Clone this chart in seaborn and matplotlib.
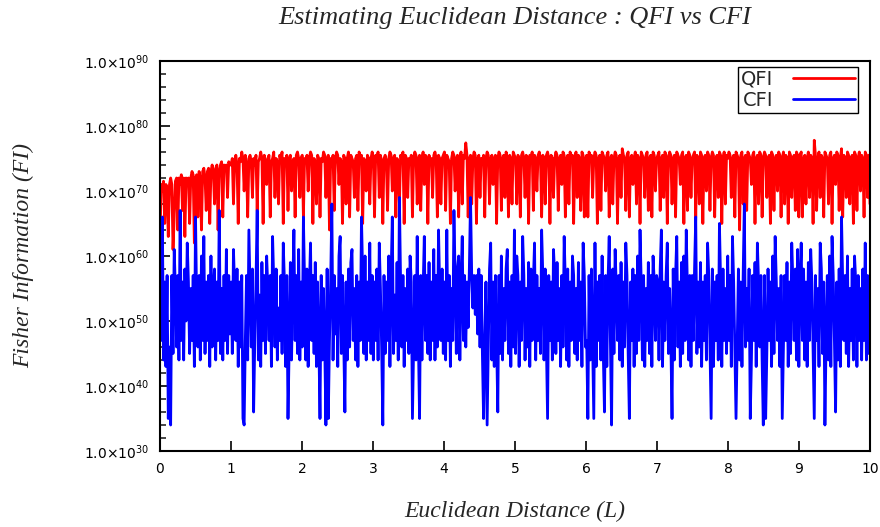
import numpy as np
import pandas as pd
import matplotlib
matplotlib.use('Agg')
import matplotlib.pyplot as plt
import seaborn as sns
from matplotlib.ticker import FixedLocator, FixedFormatter

# log10 of the Fisher information (~60 points per unit of L)
qfi_exp = [
    62, 71, 70, 71.5, 65, 71, 70.5, 63, 71, 72, 71, 61, 66, 71.5, 72, 64, 72, 71, 72.5, 67, 72, 63, 72, 71.5, 72, 65, 72, 73, 72.5, 62, 72, 72.5, 66, 73, 72, 64, 73, 73.5, 72, 67, 73, 73.5, 65, 73, 74, 73, 68, 73.5, 74, 64, 73, 74, 74.5, 66, 74, 73.5, 74, 69, 74.5, 74,
    74, 75, 68, 74.5, 75.5, 74, 65, 75, 74.5, 76, 75, 70, 75.5, 74, 66, 75, 75.5, 74.5, 69, 75, 74, 75.5, 67, 74.5, 75, 76, 75, 65, 75.5, 74.5, 71, 75, 75.5, 66, 74.5, 75, 76, 69, 75, 74.5, 68, 75.5, 75, 76, 65, 75, 74.5, 75.5, 67, 75, 75.5, 70, 74.5, 75, 66, 75.5, 76, 75, 69, 75,
    75.5, 66, 75, 74.5, 75.5, 70, 75, 76, 75.5, 65, 75, 74.5, 68, 75.5, 75, 66, 75, 74.5, 76, 75.5, 69, 75, 75.5, 64, 75, 74.5, 75.5, 67, 75, 76, 75.5, 71, 75, 74.5, 65, 75.5, 75, 68, 75, 76, 66, 75.5, 75, 74.5, 69, 75, 75.5, 67, 76, 75, 75.5, 65, 75, 74.5, 70, 75.5, 75, 68, 75, 76,
    75, 66, 75.5, 75, 76, 69, 75.5, 74.5, 65, 75, 75.5, 74.5, 67, 75, 76, 75.5, 70, 75, 75.5, 66, 75, 74.5, 68, 75.5, 75, 76, 65, 75.5, 75, 69, 75, 74.5, 75.5, 66, 75, 76, 75.5, 68, 75, 75.5, 67, 75, 76, 71, 75.5, 75, 65, 75.5, 74.5, 75, 69, 75.5, 76, 75, 66, 75.5, 75, 68, 75, 75.5,
    76, 67, 75.5, 75, 74.5, 65, 75, 76, 75.5, 70, 75, 75.5, 66, 75, 76, 68, 75.5, 75, 77.4, 75.5, 66, 75, 75.5, 68, 75, 76, 75.5, 65, 75, 75.5, 69, 75, 74.5, 75.5, 66, 75, 76, 75.5, 68, 75, 75.5, 71, 75, 75.5, 65, 75, 76, 75.5, 67, 75, 75.5, 69, 76, 75, 66, 75.5, 75, 68, 76, 75.5,
    75, 68, 75.5, 75, 66, 75.5, 76, 75, 69, 75.5, 75, 65, 75.5, 75, 76, 67, 75.5, 75, 70, 75.5, 76, 75, 66, 75.5, 75, 68, 75.5, 76, 75, 65, 75.5, 75, 69, 75, 76, 75.5, 67, 75, 75.5, 71, 76, 75.5, 66, 75, 75.5, 68, 76, 75, 75.5, 65, 75, 76, 69, 75.5, 75, 67, 76, 75.5, 66, 75,
    75.5, 66, 76, 75, 75.5, 69, 75, 76, 75.5, 65, 75, 75.5, 67, 76, 75.5, 75, 70, 75.5, 76, 66, 75, 75.5, 68, 75, 76, 75.5, 65, 75, 75.5, 69, 76.5, 75.5, 75, 67, 75.5, 76, 66, 75, 75.5, 71, 75, 76, 68, 75.5, 75, 65, 76, 75.5, 75, 69, 75.5, 76, 67, 75, 75.5, 66, 76, 75.5, 70, 75,
    75.5, 76, 67, 75, 75.5, 69, 76, 75.5, 65, 75, 76, 75.5, 68, 75, 75.5, 66, 76, 75.5, 75, 71, 75.5, 76, 65, 75, 75.5, 67, 76, 75.5, 69, 75, 75.5, 76, 66, 75.5, 75, 68, 76, 75.5, 65, 75, 75.5, 70, 76, 75.5, 67, 75, 76, 75.5, 66, 75, 75.5, 69, 76, 75.5, 65, 75, 76, 68, 75.5, 75,
    76, 75.5, 69, 75, 75.5, 66, 76, 75.5, 75, 64, 75.5, 76, 68, 75, 75.5, 67, 76, 75.5, 75, 71, 75.5, 76, 65, 75, 75.5, 68, 76, 75.5, 66, 75, 76, 75.5, 69, 75, 75.5, 65, 76, 75.5, 67, 75, 75.5, 70, 76, 75.5, 66, 75, 76, 68, 75.5, 75, 65, 76, 75.5, 69, 75, 75.5, 67, 76, 75.5, 66,
    75.5, 76, 66, 75, 75.5, 68, 75, 76, 69, 75.5, 75, 65, 77.8, 75.5, 67, 75, 76, 69, 75.5, 75, 66, 76, 75.5, 75, 68, 75.5, 76, 65, 75, 75.5, 71, 76, 75.5, 67, 75, 76.5, 66, 75.5, 75, 69, 76, 75.5, 68, 75, 75.5, 65, 76, 75.5, 67, 75, 76, 70, 75.5, 75, 66, 76, 75.5, 69, 75.5, 68,
]
cfi_exp = [
    59, 47, 66, 44, 56, 43, 57, 35, 46, 34, 57, 45, 61, 55, 46, 57, 44, 67, 47, 56, 44, 58, 50, 62, 56, 45, 55, 47, 57, 43, 66, 52, 46, 57, 44, 60, 47, 63, 45, 56, 47, 57, 43, 60, 46, 55, 58, 44, 56, 47, 67, 45, 55, 44, 57, 47, 61, 45, 57, 48,
    56, 45, 61, 55, 47, 58, 43, 56, 46, 57, 35, 34, 47, 57, 44, 64, 55, 46, 58, 36, 47, 56, 67, 44, 54, 43, 59, 47, 57, 45, 60, 55, 47, 57, 43, 63, 56, 46, 58, 44, 52, 47, 57, 45, 62, 56, 43, 57, 35, 46, 59, 44, 55, 64, 47, 57, 45, 61, 44, 56,
    46, 66, 56, 44, 58, 43, 55, 62, 47, 57, 45, 59, 43, 56, 47, 35, 57, 44, 55, 46, 34, 58, 35, 47, 56, 68, 44, 57, 48, 55, 43, 60, 63, 45, 57, 47, 36, 56, 44, 58, 46, 59, 61, 47, 55, 44, 57, 43, 56, 47, 66, 57, 45, 60, 44, 56, 47, 62, 45, 57,
    44, 56, 47, 58, 44, 62, 55, 46, 34, 57, 45, 56, 47, 60, 43, 57, 66, 45, 54, 47, 59, 44, 69, 56, 46, 57, 43, 55, 47, 58, 45, 60, 56, 35, 46, 57, 44, 63, 47, 35, 57, 44, 55, 63, 47, 57, 45, 59, 44, 56, 47, 61, 44, 57, 46, 64, 55, 47, 58, 45,
    56, 44, 64, 47, 57, 43, 55, 47, 67, 57, 45, 58, 60, 44, 56, 63, 47, 57, 46, 56, 49, 58, 69, 57, 52, 57, 51, 57, 48, 58, 46, 57, 45, 35, 47, 56, 34, 46, 58, 62, 44, 56, 43, 57, 47, 36, 57, 45, 60, 44, 55, 47, 58, 61, 45, 56, 43, 57, 46, 64,
    45, 60, 57, 43, 56, 47, 63, 57, 44, 55, 46, 59, 43, 58, 47, 56, 62, 44, 57, 47, 55, 45, 64, 57, 44, 58, 46, 35, 57, 47, 56, 44, 61, 57, 45, 59, 47, 55, 43, 57, 46, 63, 56, 44, 58, 43, 56, 47, 60, 57, 45, 55, 44, 59, 47, 56, 43, 62, 57, 46,
    47, 35, 57, 44, 58, 46, 35, 62, 43, 56, 47, 57, 44, 60, 45, 36, 57, 43, 56, 63, 47, 34, 58, 45, 61, 55, 47, 57, 44, 59, 43, 56, 46, 62, 57, 45, 35, 56, 47, 58, 43, 57, 45, 60, 47, 64, 56, 44, 57, 43, 55, 47, 59, 45, 57, 43, 60, 56, 47, 57,
    56, 44, 58, 64, 43, 56, 47, 57, 62, 45, 55, 47, 35, 58, 44, 57, 63, 46, 56, 43, 59, 45, 60, 47, 64, 55, 44, 57, 43, 57, 47, 58, 66, 45, 56, 46, 59, 43, 56, 47, 57, 44, 62, 57, 46, 35, 58, 43, 56, 47, 57, 44, 65, 56, 43, 58, 47, 55, 45, 60,
    47, 57, 43, 63, 56, 45, 35, 47, 58, 44, 56, 43, 57, 68, 46, 55, 47, 58, 35, 44, 57, 47, 59, 43, 62, 56, 46, 57, 44, 34, 57, 35, 45, 58, 47, 56, 43, 60, 45, 63, 56, 47, 55, 43, 57, 35, 46, 57, 47, 59, 43, 56, 45, 62, 56, 47, 58, 44, 61, 43,
    56, 62, 47, 58, 44, 56, 43, 59, 47, 61, 56, 45, 35, 57, 47, 55, 43, 62, 58, 45, 56, 34, 47, 57, 44, 60, 43, 63, 57, 47, 36, 56, 44, 58, 43, 66, 56, 47, 57, 45, 60, 43, 55, 47, 58, 44, 60, 56, 43, 57, 47, 55, 44, 58, 47, 62, 44, 57, 45, 55,
]

ytick_exp = [30, 40, 50, 60, 70, 80, 90]
ytick_labels = [r'1.0$\times$10$^{%d}$' % e for e in ytick_exp]

df = pd.DataFrame({
    'L': np.concatenate([np.linspace(0, 10, len(qfi_exp)), np.linspace(0, 10, len(cfi_exp))]),
    'FI': np.concatenate([10.0 ** np.array(qfi_exp), 10.0 ** np.array(cfi_exp)]),
    'kind': ['QFI'] * len(qfi_exp) + ['CFI'] * len(cfi_exp),
})

sns.set_style('white')
fig = plt.figure(figsize=(8.8, 5.27), dpi=100)
ax = fig.add_axes([0.1818, 0.1442, 0.8068, 0.7401])

sns.lineplot(data=df, x='L', y='FI', hue='kind', palette={'QFI': '#ff0000', 'CFI': '#0000ff'},
             linewidth=2.0, ax=ax, estimator=None, sort=False)

ax.set_yscale('log')
ax.set_xlim(0, 10)
ax.set_ylim(1e30, 1e90)
ax.yaxis.set_major_locator(FixedLocator([10.0 ** e for e in ytick_exp]))
ax.yaxis.set_major_formatter(FixedFormatter(ytick_labels))
ax.yaxis.set_minor_locator(FixedLocator([10.0 ** e for e in range(30, 91, 2)]))
ax.yaxis.set_minor_formatter(FixedFormatter([''] * 31))
ax.set_xticks(range(0, 11))
ax.tick_params(axis='both', which='major', direction='in', length=7, width=1.2,
               labelsize=10, colors='black', pad=8)
ax.tick_params(axis='y', which='minor', direction='in', length=4, width=1.2, left=True)
ax.tick_params(axis='both', left=True, bottom=True, top=False, right=False)

for sp in ax.spines.values():
    sp.set_color('black')
    sp.set_linewidth(1.5)

serif = 'Liberation Serif'
ax.set_xlabel('Euclidean Distance (L)', fontfamily=serif, fontstyle='italic', fontsize=17, labelpad=18)
ax.set_ylabel('Fisher Information (FI)', fontfamily=serif, fontstyle='italic', fontsize=17, labelpad=36)
fig.text(0.585, 0.965, 'Estimating Euclidean Distance : QFI vs CFI', fontfamily=serif,
         fontstyle='italic', fontsize=19, ha='center', va='center')

leg = ax.legend(loc='upper right', bbox_to_anchor=(0.983, 0.985), markerfirst=False, fancybox=False,
                framealpha=1, edgecolor='black', fontsize=14, handlelength=3.2, handletextpad=1.0,
                borderpad=0.15, labelspacing=0.1, borderaxespad=0)
leg.get_frame().set_linewidth(1.0)
for line in leg.get_lines():
    line.set_linewidth(2)

fig.savefig('out.png', dpi=100)
